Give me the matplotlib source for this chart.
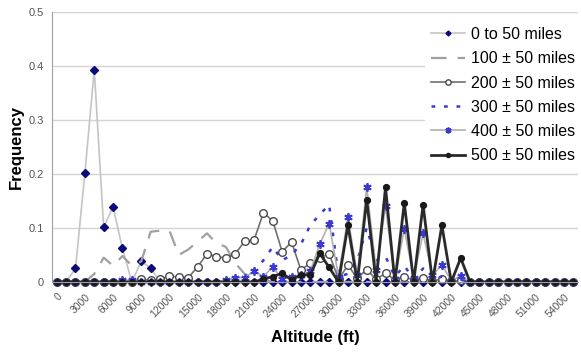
import matplotlib.pyplot as plt
from matplotlib.ticker import FuncFormatter, FixedLocator
from matplotlib.transforms import ScaledTranslation

plt.rcParams['font.family'] = ['Liberation Sans', 'DejaVu Sans']

# altitude bins, 1000 ft each
altitudes = list(range(0, 56000, 1000))
tick_labels = [str(a) for a in altitudes[::3]]

series_names = ['0 to 50 miles', '100 \u00b1 50 miles', '200 \u00b1 50 miles',
                '300 \u00b1 50 miles', '400 \u00b1 50 miles', '500 \u00b1 50 miles']

freq_0_50 = [0, 0, 0.025, 0.201, 0.393, 0.101, 0.139, 0.062, 0, 0.038,
             0.026, 0, 0, 0, 0, 0, 0, 0, 0, 0,
             0, 0, 0, 0, 0, 0, 0, 0, 0, 0,
             0, 0, 0, 0, 0, 0, 0, 0, 0, 0,
             0, 0, 0, 0, 0, 0, 0, 0, 0, 0,
             0, 0, 0, 0, 0, 0]
freq_100 = [0, 0, 0, 0, 0.015, 0.045, 0.03, 0.048, 0.03, 0.038,
            0.093, 0.095, 0.095, 0.05, 0.06, 0.075, 0.09, 0.072, 0.065, 0.035,
            0.015, 0.008, 0.004, 0, 0, 0, 0, 0, 0, 0,
            0, 0, 0, 0, 0, 0, 0, 0, 0, 0,
            0, 0, 0, 0, 0, 0, 0, 0, 0, 0,
            0, 0, 0, 0, 0, 0]
freq_200 = [0, 0, 0, 0, 0, 0, 0, 0, 0, 0.005,
            0.003, 0.005, 0.011, 0.009, 0.008, 0.028, 0.052, 0.047, 0.044, 0.052,
            0.075, 0.077, 0.128, 0.113, 0.056, 0.074, 0.022, 0.035, 0.045, 0.052,
            0.005, 0.031, 0.007, 0.023, 0.005, 0.016, 0.004, 0.01, 0.003, 0.007,
            0.002, 0.005, 0.001, 0.003, 0, 0, 0, 0, 0, 0,
            0, 0, 0, 0, 0, 0]
freq_300 = [0, 0, 0, 0, 0, 0, 0, 0, 0, 0,
            0, 0, 0, 0, 0, 0, 0, 0, 0, 0,
            0.005, 0.02, 0.04, 0.065, 0.04, 0.05, 0.07, 0.105, 0.125, 0.143,
            0.01, 0.015, 0.04, 0.1, 0.04, 0.047, 0.01, 0.03, 0.005, 0.025,
            0.003, 0.01, 0, 0.004, 0, 0, 0, 0, 0, 0,
            0, 0, 0, 0, 0, 0]
freq_400 = [0, 0, 0, 0, 0, 0, 0, 0.003, 0.003, 0,
            0, 0, 0, 0, 0, 0, 0, 0, 0.003, 0.008,
            0.008, 0.02, 0.01, 0.028, 0.005, 0.01, 0.012, 0.02, 0.07, 0.108,
            0.01, 0.12, 0.013, 0.175, 0.022, 0.14, 0.005, 0.098, 0.008, 0.09,
            0.012, 0.032, 0.002, 0.011, 0, 0, 0, 0, 0, 0,
            0, 0, 0, 0, 0, 0]
freq_500 = [0, 0, 0, 0, 0, 0, 0, 0, 0, 0,
            0, 0, 0, 0, 0, 0, 0, 0, 0, 0,
            0, 0, 0.005, 0.01, 0.016, 0.004, 0.013, 0.013, 0.053, 0.027,
            0, 0.105, 0, 0.152, 0, 0.175, 0, 0.146, 0, 0.143,
            0, 0.105, 0, 0.044, 0, 0, 0, 0, 0, 0,
            0, 0, 0, 0, 0, 0]


def plot_chart():
    fig = plt.figure(figsize=(5.81, 3.52), dpi=100)
    ax = fig.add_axes([0.0895, 0.199, 0.9055, 0.767])

    x = list(range(len(altitudes)))

    ax.plot(x, freq_0_50, color='#c4c4c4', lw=1.2, marker='D', ms=3.6,
            mfc='#0a0a78', mec='#0a0a78', label=series_names[0], clip_on=False)
    ax.plot(x, freq_100, color='#a0a0a0', lw=1.6, dashes=(7, 5),
            label=series_names[1])
    ax.plot(x, freq_200, color='#707070', lw=1.2, marker='o', ms=5.5,
            mfc='white', mec='#4a4a4a', mew=1.0, label=series_names[2], clip_on=False)
    ax.plot(x, freq_300, color='#3a3ad0', lw=1.8, dashes=(1.5, 3.5),
            label=series_names[3])
    ax.plot(x, freq_400, color='#b0b0b0', lw=1.2, marker=(6, 2, 0), ms=6,
            mec='#3a3ad0', mew=1.3, label=series_names[4], clip_on=False)
    ax.plot(x, freq_500, color='#2a2a2a', lw=2.0, marker='o', ms=4.2,
            mfc='#1a1a1a', mec='#1a1a1a', label=series_names[5], clip_on=False)

    ax.set_xlim(-0.5, len(altitudes) - 0.5)
    ax.set_ylim(0, 0.5)

    # y axis
    ax.set_yticks([0, 0.1, 0.2, 0.3, 0.4, 0.5])
    ax.yaxis.set_major_formatter(FuncFormatter(lambda v, p: '0' if v == 0 else f'{v:.1f}'))
    ax.yaxis.grid(True, color='#d4d4d4', lw=1.0)
    ax.set_axisbelow(True)

    # x axis: label every 3rd bin
    ax.xaxis.set_major_locator(FixedLocator(x[::3]))
    ax.set_xticklabels(tick_labels, rotation=45, ha='right', rotation_mode='anchor')
    shift = ScaledTranslation(-4 / 72, 0, fig.dpi_scale_trans)
    for lab in ax.get_xticklabels():
        lab.set_transform(lab.get_transform() + shift)

    ax.tick_params(axis='both', length=0, colors='#555555', labelsize=7.5)
    ax.tick_params(axis='x', pad=7)
    ax.tick_params(axis='y', pad=6, labelsize=8)

    for side in ['top', 'right']:
        ax.spines[side].set_visible(False)
    ax.spines['left'].set_color('#a0a0a0')
    ax.spines['bottom'].set_color('#a0a0a0')

    ax.set_ylabel('Frequency', fontsize=12, fontweight='bold', labelpad=3)
    ax.set_xlabel('Altitude (ft)', fontsize=12, fontweight='bold', labelpad=8)

    leg = ax.legend(loc='upper right', bbox_to_anchor=(1.005, 0.965),
                    prop={'family': ['Liberation Sans Narrow', 'Liberation Sans'], 'size': 11.5},
                    frameon=True, fancybox=False, handlelength=2.1, markerscale=0.7,
                    labelspacing=0.58, borderpad=0.35, handletextpad=0.4,
                    borderaxespad=0.0)
    leg.get_frame().set_facecolor('white')
    leg.get_frame().set_edgecolor('none')
    leg.get_frame().set_alpha(1.0)

    fig.savefig('out.png', dpi=100)
    plt.close(fig)


if __name__ == '__main__':
    plot_chart()
